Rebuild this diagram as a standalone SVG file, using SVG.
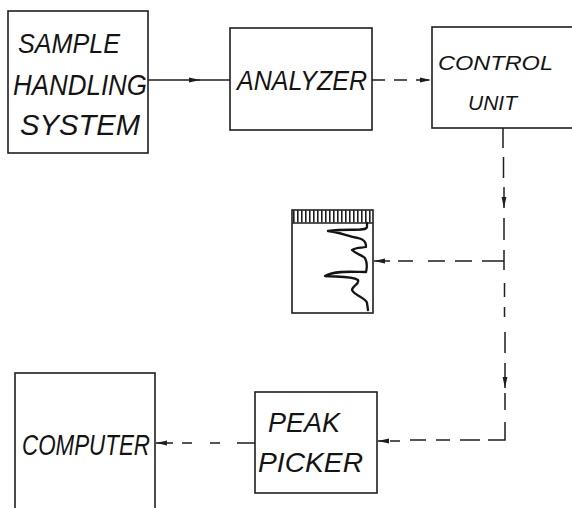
<svg xmlns="http://www.w3.org/2000/svg" width="572" height="508" viewBox="0 0 572 508">
  <style>
    .box { fill: none; stroke: #1e1e1e; stroke-width: 1.6; }
    .lbl { font-family: "Liberation Sans", Arial, sans-serif; font-style: italic; fill: #141414; }
    .wire { fill: none; stroke: #1e1e1e; stroke-width: 1.5; }
    .dash { stroke-dasharray: 13 9; }
    .trace { fill: none; stroke: #141414; stroke-width: 2.3; stroke-linejoin: round; stroke-linecap: round; }
  </style>
  <defs>
    <marker id="arrow" markerUnits="userSpaceOnUse" markerWidth="12" markerHeight="6" refX="11" refY="3" orient="auto">
      <path d="M0,0.6 L11,3 L0,5.4 z" fill="#1e1e1e"/>
    </marker>
  </defs>
  <rect width="572" height="508" fill="#ffffff"/>

  <!-- blocks -->
  <g id="sample-handling-system">
    <rect class="box" x="8" y="11" width="140" height="142"/>
    <text class="lbl" x="18" y="53" font-size="28" textLength="102" lengthAdjust="spacingAndGlyphs">SAMPLE</text>
    <text class="lbl" x="13" y="95" font-size="29" textLength="134" lengthAdjust="spacingAndGlyphs">HANDLING</text>
    <text class="lbl" x="20" y="135" font-size="30" textLength="120" lengthAdjust="spacingAndGlyphs">SYSTEM</text>
  </g>

  <g id="analyzer">
    <rect class="box" x="230" y="28" width="142" height="102"/>
    <text class="lbl" x="237" y="90" font-size="28" textLength="130" lengthAdjust="spacingAndGlyphs">ANALYZER</text>
  </g>

  <g id="control-unit">
    <rect class="box" x="432" y="27" width="150" height="101"/>
    <text class="lbl" x="438" y="70" font-size="21" textLength="115" lengthAdjust="spacingAndGlyphs">CONTROL</text>
    <text class="lbl" x="468" y="110" font-size="21" textLength="49" lengthAdjust="spacingAndGlyphs">UNIT</text>
  </g>

  <g id="recorder-chart">
    <rect class="box" x="292" y="210" width="81" height="103"/>
    <line x1="292" y1="223" x2="373" y2="223" stroke="#1e1e1e" stroke-width="1.4"/>
    <line x1="293" y1="216.5" x2="372" y2="216.5" stroke="#1e1e1e" stroke-width="12" stroke-dasharray="1.6 2.4"/>
    <path class="trace" d="M367 223 L367 227 C366 232 350 228 328 231 C340 232 346 236 358 238 C366 240 366 244 366 247 C362 248 356 247 352 250 C356 254 362 255 365 258 C367 262 367 268 366 272 C355 272 335 270 325 276 C338 277 352 276 358 280 C360 284 352 286 352 290 C355 296 366 298 367 303 L368 310"/>
  </g>

  <g id="peak-picker">
    <rect class="box" x="255" y="392" width="122" height="101"/>
    <text class="lbl" x="268" y="432" font-size="27" textLength="72" lengthAdjust="spacingAndGlyphs">PEAK</text>
    <text class="lbl" x="258" y="472" font-size="28" textLength="105" lengthAdjust="spacingAndGlyphs">PICKER</text>
  </g>

  <g id="computer">
    <rect class="box" x="15" y="373" width="140" height="140"/>
    <text class="lbl" x="22" y="455" font-size="30" textLength="128" lengthAdjust="spacingAndGlyphs">COMPUTER</text>
  </g>

  <!-- connectors -->
  <g id="connectors">
    <!-- sample handling -> analyzer -->
    <path class="wire" d="M148 80 L200 80" marker-end="url(#arrow)"/>
    <path class="wire" d="M199 80 L230 80"/>
    <!-- analyzer -> control unit -->
    <path class="wire dash" d="M372 80 L431 80" marker-end="url(#arrow)" stroke-dasharray="9 8"/>
    <!-- control unit down the right side -->
    <path class="wire" d="M503 128 L503 148 M503.5 157 L503.5 178"/>
    <path class="wire" d="M504 187 L504 208" marker-end="url(#arrow)"/>
    <path class="wire" d="M504 218 L504 240 M504 250 L504 270 M504.5 283 L504.5 297 M504.5 307 L504.5 317 M505 332 L505 353"/>
    <path class="wire" d="M505 363 L505 388" marker-end="url(#arrow)"/>
    <path class="wire" d="M505 393 L505 410 M505 422 L505 440 L488 440"/>
    <!-- branch to the chart -->
    <path class="wire" d="M504 261 L482 261 M472 261 L455 261 M445 261 L428 261 M413 261 L398 261"/>
    <path class="wire" d="M390 261 L374 261" marker-end="url(#arrow)"/>
    <!-- to the peak picker -->
    <path class="wire" d="M480 440 L460 440 M450 440 L436 440 M426 440 L410 440 M400 441 L390 441"/>
    <path class="wire" d="M388 441 L378 441" marker-end="url(#arrow)"/>
    <!-- peak picker -> computer -->
    <path class="wire" d="M255 443 L237 443 M220 443 L210 443 M192 443 L182 443"/>
    <path class="wire" d="M173 443 L156 443" marker-end="url(#arrow)"/>
  </g>
</svg>
